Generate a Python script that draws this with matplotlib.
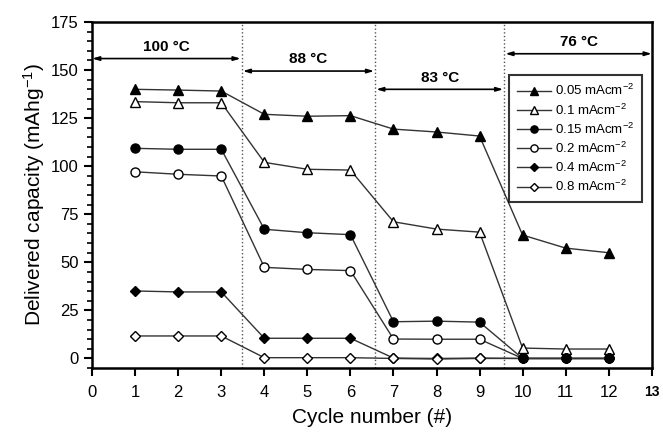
import matplotlib
matplotlib.use('Agg')
import matplotlib.pyplot as plt
from matplotlib.ticker import MultipleLocator

plt.rcParams['font.family'] = ['Liberation Sans', 'DejaVu Sans']
plt.rcParams['mathtext.default'] = 'regular'

# Data
cycles = [1, 2, 3, 4, 5, 6, 7, 8, 9, 10, 11, 12]
cap_005 = [140.0, 139.6, 139.1, 127.0, 126.0, 126.3, 119.3, 117.8, 115.7, 64.2, 57.4, 55.0]
cap_01 = [133.6, 133.0, 133.0, 102.0, 98.4, 98.0, 71.1, 67.3, 65.7, 5.4, 4.9, 4.9]
cap_015 = [109.3, 108.8, 108.8, 67.2, 65.4, 64.4, 19.1, 19.4, 18.9, 0.0, 0.0, 0.0]
cap_02 = [97.1, 95.8, 94.9, 47.4, 46.3, 45.7, 10.1, 10.0, 10.0, 0.0, 0.0, 0.0]
cap_04 = [35.1, 34.6, 34.6, 10.5, 10.5, 10.5, 0.2, 0.0, 0.2, 0.0, 0.0, 0.0]
cap_08 = [11.7, 11.7, 11.7, 0.4, 0.4, 0.4, 0.0, -0.3, 0.0, 0.0, 0.0, 0.0]

labels = ['0.05 mAcm$^{-2}$', '0.1 mAcm$^{-2}$', '0.15 mAcm$^{-2}$',
          '0.2 mAcm$^{-2}$', '0.4 mAcm$^{-2}$', '0.8 mAcm$^{-2}$']

# temperature regions: (start, end, arrow y, label)
regions = [(0.0, 3.45, 156, '100 °C'), (3.5, 6.55, 149.5, '88 °C'),
           (6.6, 9.55, 140, '83 °C'), (9.6, 13.0, 158.5, '76 °C')]
boundaries = [3.47, 6.57, 9.57]

fig = plt.figure(figsize=(6.63, 4.32), dpi=100)
ax = fig.add_axes([0.139, 0.148, 0.844, 0.801])

series = [(cap_005, '^', 'black'), (cap_01, '^', 'white'), (cap_015, 'o', 'black'),
          (cap_02, 'o', 'white'), (cap_04, 'D', 'black'), (cap_08, 'D', 'white')]
zorders = [3, 3, 6, 4, 4, 5]
sizes = [7, 7, 6.5, 6.5, 5.5, 5.5]
for (vals, m, fc), lab, z, ms in zip(series, labels, zorders, sizes):
    ax.plot(cycles, vals, marker=m, markerfacecolor=fc, markeredgecolor='black',
            markeredgewidth=1.0, markersize=ms, color='#333333', lw=1.0,
            label=lab, zorder=z)

for b in boundaries:
    ax.axvline(b, color='#555555', ls=':', lw=1.0, zorder=1)

for x0, x1, yy, txt in regions:
    ax.annotate('', xy=(x0, yy), xytext=(x1, yy),
                arrowprops=dict(arrowstyle='<|-|>,head_length=0.4,head_width=0.12',
                                color='black', lw=1.2, shrinkA=0, shrinkB=0))
    ax.text((x0 + x1) / 2, yy + 2.5, txt, ha='center', va='bottom',
            fontsize=11, fontweight='bold')

ax.set_xlim(0, 13)
ax.set_ylim(-5, 175)
ax.set_xticks(range(0, 14))
ax.set_yticks(range(0, 176, 25))
ax.yaxis.set_minor_locator(MultipleLocator(5))
ax.tick_params(axis='both', which='major', labelsize=12, width=1.5, length=6, direction='out')
ax.tick_params(axis='x', which='major', pad=6)
ax.tick_params(axis='y', which='minor', width=1.2, length=3.5, direction='out')
for lbl in ax.get_xticklabels():
    if lbl.get_text() == '13':
        lbl.set_fontweight('bold')
        lbl.set_fontsize(10)
for s in ax.spines.values():
    s.set_linewidth(1.8)

ax.set_xlabel('Cycle number (#)', fontsize=15, labelpad=6)
ax.set_ylabel('Delivered capacity (mAhg$^{-1}$)', fontsize=15, labelpad=3)

leg = ax.legend(loc='upper right', bbox_to_anchor=(0.995, 0.865), fontsize=9.5,
                frameon=True, fancybox=False, edgecolor='black', handlelength=2.6,
                handletextpad=0.3, labelspacing=0.3, borderpad=0.6, markerscale=0.8)
leg.get_frame().set_linewidth(1.5)

fig.savefig('out.png', dpi=100)
